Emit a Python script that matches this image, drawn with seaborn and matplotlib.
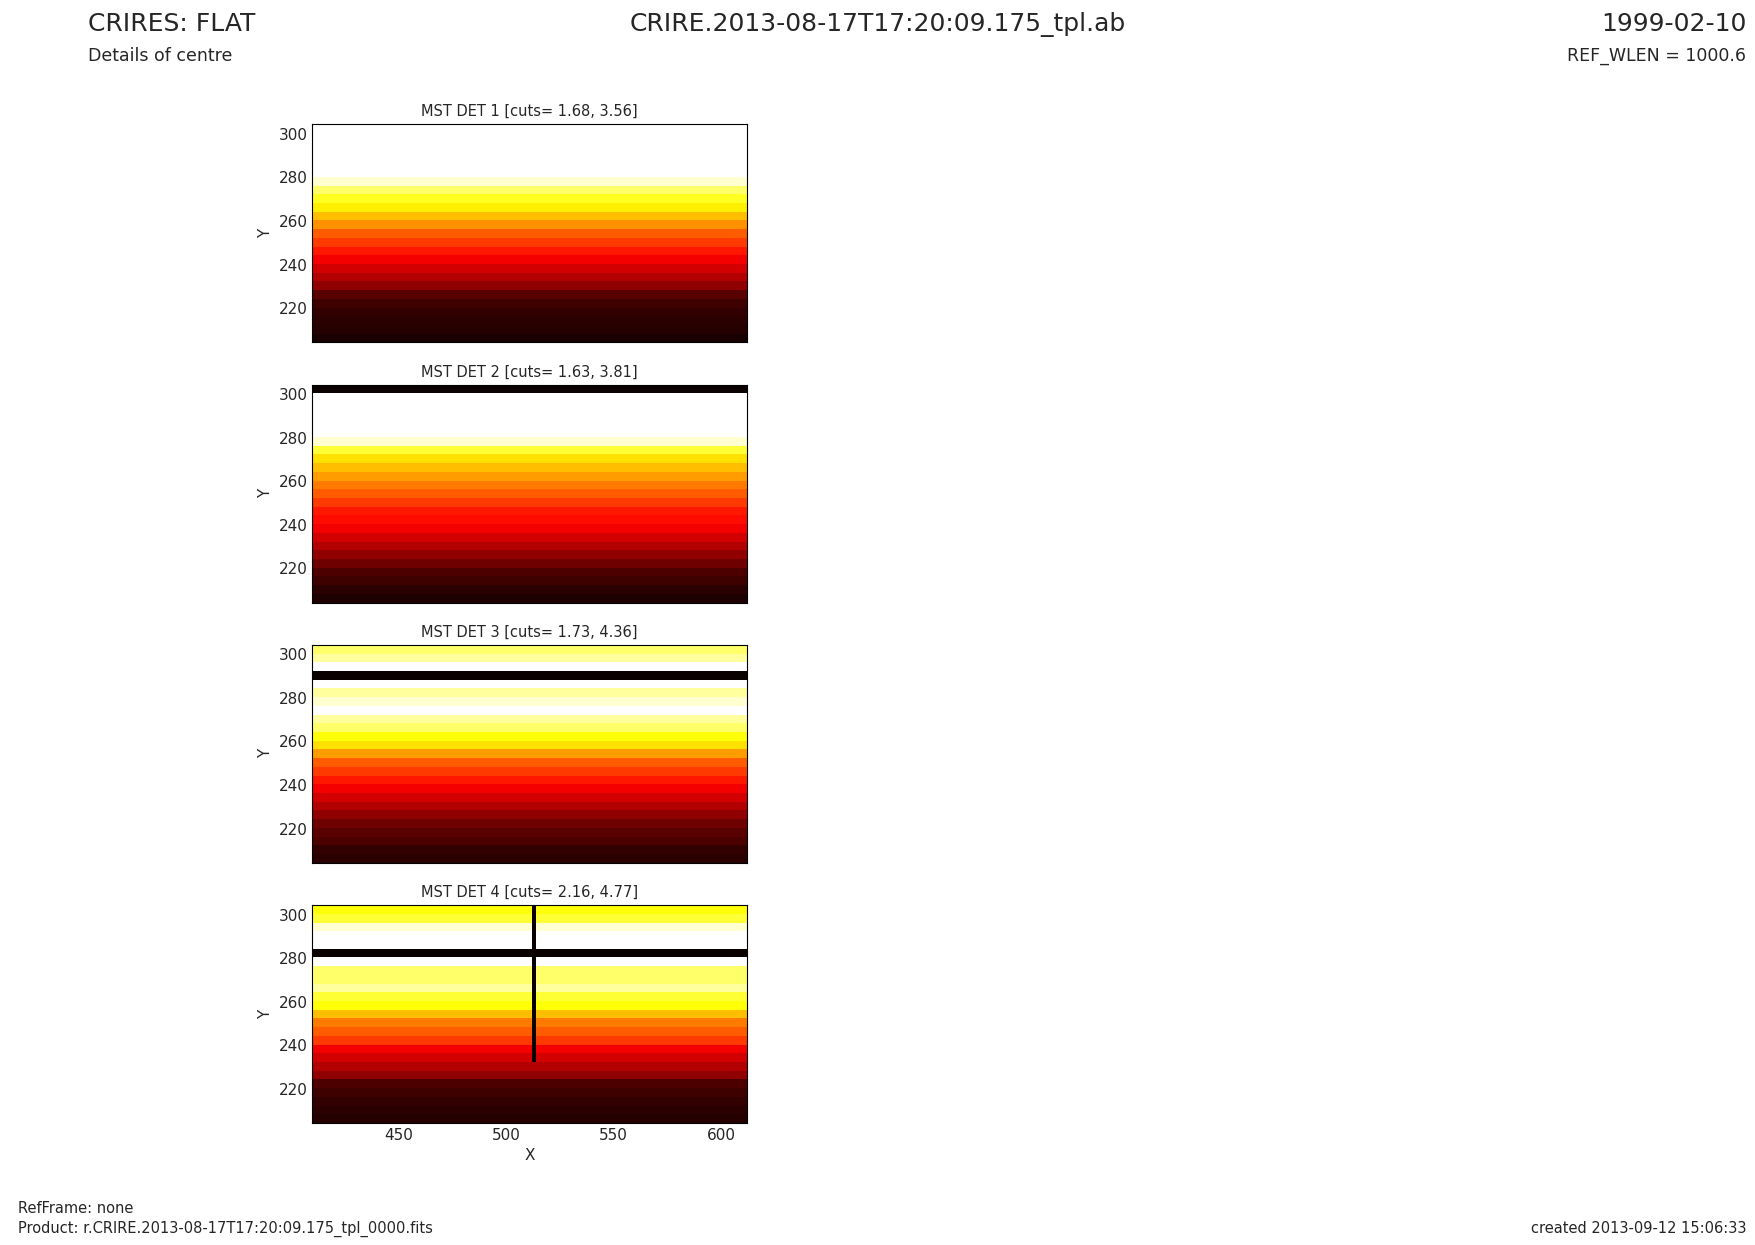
import matplotlib
matplotlib.use("Agg")
import matplotlib.pyplot as plt
import numpy as np
import seaborn as sns

sns.set_style("white")
plt.rcParams["font.family"] = ["DejaVu Sans"]

# row centres (Y), top to bottom, 4-pixel bins
y_centres = [303, 299, 295, 291, 287, 283, 279, 275, 271, 267, 263, 259, 255,
             251, 247, 243, 239, 235, 231, 227, 223, 219, 215, 211, 207]
x_edges_start, x_step, n_cols = 410, 2, 101

det_titles = ["MST DET 1 [cuts= 1.68, 3.56]", "MST DET 2 [cuts= 1.63, 3.81]",
              "MST DET 3 [cuts= 1.73, 4.36]", "MST DET 4 [cuts= 2.16, 4.77]"]
det1_rows = [1, 1, 1, 1, 1, 1, 0.95, 0.85, 0.78, 0.72, 0.65, 0.58, 0.5, 0.45, 0.4,
             0.35, 0.3, 0.25, 0.2, 0.12, 0.08, 0.06, 0.05, 0.04, 0.02]
det2_rows = [0, 1, 1, 1, 1, 1, 0.95, 0.8, 0.7, 0.65, 0.6, 0.55, 0.5, 0.45, 0.4,
             0.38, 0.35, 0.3, 0.25, 0.2, 0.15, 0.1, 0.08, 0.05, 0.03]
det3_rows = [0.85, 0.9, 1, 0, 1, 0.9, 0.95, 1, 0.9, 0.85, 0.75, 0.7, 0.6, 0.5, 0.45,
             0.4, 0.35, 0.3, 0.25, 0.2, 0.15, 0.12, 0.1, 0.06, 0.05]
det4_rows = [0.75, 0.8, 0.95, 1, 1, 0, 1, 0.85, 0.85, 0.9, 0.8, 0.75, 0.65, 0.55, 0.5,
             0.45, 0.35, 0.3, 0.25, 0.2, 0.1, 0.08, 0.06, 0.05, 0.04]
# dark column in detector 4
det4_line_x = 512
det4_line_ymin = 232

fig = plt.figure(figsize=(17.55, 12.45), dpi=100)
fig.text(0.05, 0.99, "CRIRES: FLAT", fontsize=18, va="top")
fig.text(0.05, 0.962, "Details of centre", fontsize=12.5, va="top")
fig.text(0.5, 0.99, "CRIRE.2013-08-17T17:20:09.175_tpl.ab", fontsize=18, va="top", ha="center")
fig.text(0.995, 0.99, "1999-02-10", fontsize=18, va="top", ha="right")
fig.text(0.995, 0.962, "REF_WLEN = 1000.6", fontsize=12.5, va="top", ha="right")
fig.text(0.01, 0.026, "RefFrame: none", fontsize=10.5)
fig.text(0.01, 0.01, "Product: r.CRIRE.2013-08-17T17:20:09.175_tpl_0000.fits", fontsize=10.5)
fig.text(0.995, 0.01, "created 2013-09-12 15:06:33", fontsize=10.5, ha="right")

tops = [0.100, 0.309, 0.518, 0.727]  # distance of panel top from figure top
rows_all = [det1_rows, det2_rows, det3_rows, det4_rows]
for k, (rows, title, top) in enumerate(zip(rows_all, det_titles, tops)):
    ax = fig.add_axes([0.178, 1 - top - 0.175, 0.2475, 0.175])
    img = np.tile(np.array(rows)[:, None], (1, n_cols))
    if k == 3:
        col = (det4_line_x - x_edges_start) // x_step
        for i, yc in enumerate(y_centres):
            if yc >= det4_line_ymin:
                img[i, col] = 0
    sns.heatmap(img, ax=ax, cmap="hot", vmin=0, vmax=1, cbar=False)
    for s in ax.spines.values():
        s.set_visible(True)
        s.set_color("black")
    ax.set_title(title, fontsize=10.5)
    yt = [220, 240, 260, 280, 300]
    ax.set_yticks([(305 - v) / 4 for v in yt])
    ax.set_yticklabels([str(v) for v in yt], rotation=0, fontsize=11)
    ax.set_ylabel("Y", fontsize=11)
    ax.tick_params(direction="in", length=4, left=True, bottom=True)
    xt = [450, 500, 550, 600]
    ax.set_xticks([(v - x_edges_start) / x_step for v in xt])
    if k == 3:
        ax.set_xticklabels([str(v) for v in xt], rotation=0, fontsize=11)
        ax.set_xlabel("X", fontsize=11)
    else:
        ax.set_xticklabels([])

fig.savefig("out.png", dpi=100)
